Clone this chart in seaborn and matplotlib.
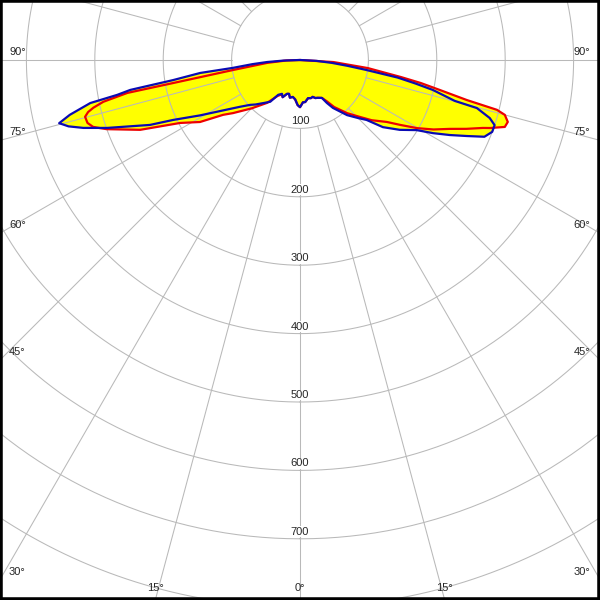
import numpy as np
import pandas as pd
import matplotlib
matplotlib.use("Agg")
import matplotlib.pyplot as plt
import seaborn as sns

# luminous intensity (cd) against gamma angle (deg), one list per half plane
blue_left_gamma = [0, 3, 7, 11, 15, 18, 21, 25, 28, 32, 35.5, 40, 45, 48, 52, 56, 61,
                   64.7, 66.6, 70.6, 72.6, 74, 75.3, 76.6, 78.4, 79.2, 80, 81, 82.6,
                   83.3, 85, 86.5, 88, 90]
blue_left_cd = [69, 66, 58, 55, 57, 52, 53, 60, 56, 60, 75, 82, 92, 98, 111, 130, 167,
                205, 239, 299, 332, 352, 364, 346, 313, 272, 252, 188, 147,
                99, 70, 48, 24, 0]

blue_right_gamma = [0, 4, 7, 12, 16, 19, 22, 25, 30, 32, 34.5, 40.5, 45, 48, 51, 55, 59,
                    61.2, 63.4, 65.5, 67.4, 69.5, 71.5, 73, 74.8, 75.2, 77.3, 78.5, 79.8,
                    81.5, 83, 84.8, 87, 90]
blue_right_cd = [69, 62, 62, 57, 58, 57, 60, 61, 64, 74, 85, 106, 120, 131, 156, 178, 199,
                 222, 245, 268, 292, 300, 300, 290, 268, 234, 199, 172, 145,
                 97, 70, 47, 24, 0]

red_left_gamma = [0, 3, 7, 11, 15, 18, 21, 25, 28, 32, 37.5, 45, 51.6, 54.5, 58.2, 62.3,
                  66.4, 70.3, 71.2, 72.1, 73.5, 75.2, 76.2, 77, 78, 79.2, 79.7, 81.5,
                  85, 88, 90]
red_left_cd = [69, 66, 58, 55, 57, 52, 53, 60, 57, 62, 79, 100, 125, 138, 172, 198,
               255, 300, 309, 318, 324, 325, 319, 310, 294, 257, 189, 99,
               48, 20, 0]

red_right_gamma = [0, 4, 7, 12, 16, 19, 22, 25, 30, 33, 36, 41.6, 46.5, 50, 54.5, 57,
                   59.8, 62.5, 65.3, 67.5, 69.6, 70.3, 71.9, 73.4, 75, 75.8, 76.5, 77.9,
                   79.2, 80.4, 83.2, 86.5, 90]
red_right_cd = [69, 62, 62, 57, 58, 57, 60, 61, 64, 72, 85, 104, 121, 137, 156, 174,
                198, 220, 241, 263, 285, 295, 315, 317, 310, 297, 251, 209,
                180, 150, 100, 49, 0]

ring_values = [100, 200, 300, 400, 500, 600, 700, 800, 900]
ring_labels = ["100", "200", "300", "400", "500", "600", "700"]
side_angles = [90, 75, 60, 45, 30]
bottom_angles = [-15, 0, 15]

# image geometry: polar centre at pixel (300, 60), 0.684 px per cd
PX = 0.684
XMAX = 300 / PX
YTOP = -60 / PX
YBOT = 540 / PX
GRID = "#b9b9b9"


def half_xy(gamma, cd, side):
    g = np.radians(np.asarray(gamma, dtype=float))
    i = np.asarray(cd, dtype=float)
    return side * i * np.sin(g), i * np.cos(g)


def closed_curve(g_left, i_left, g_right, i_right):
    xl, yl = half_xy(g_left[::-1], i_left[::-1], -1)
    xr, yr = half_xy(g_right, i_right, 1)
    return pd.DataFrame({"x": np.concatenate([xl, xr]), "y": np.concatenate([yl, yr])})


sns.set_style("white")
plt.rcParams["font.family"] = ["Liberation Sans", "DejaVu Sans"]

fig = plt.figure(figsize=(6, 6), dpi=100)
ax = fig.add_axes([0, 0, 1, 1])

red = closed_curve(red_left_gamma, red_left_cd, red_right_gamma, red_right_cd)
blue = closed_curve(blue_left_gamma, blue_left_cd, blue_right_gamma, blue_right_cd)

# yellow area = union of both curves
ax.fill(red["x"], red["y"], color="#ffff00", lw=0, zorder=1)
ax.fill(blue["x"], blue["y"], color="#ffff00", lw=0, zorder=1)

# grid rings and radial lines
t = np.linspace(0, 2 * np.pi, 721)
for r in ring_values:
    ax.plot(r * np.sin(t), r * np.cos(t), color=GRID, lw=0.75, zorder=2)
for a in range(0, 360, 15):
    ar = np.radians(a)
    ax.plot([100 * np.sin(ar), 1300 * np.sin(ar)], [100 * np.cos(ar), 1300 * np.cos(ar)],
            color=GRID, lw=0.75, zorder=2)

sns.lineplot(data=red, x="x", y="y", sort=False, estimator=None, color="#ee0000",
             lw=1.6, ax=ax, zorder=3)
sns.lineplot(data=blue, x="x", y="y", sort=False, estimator=None, color="#0a0ab4",
             lw=1.6, ax=ax, zorder=4)

# ring value labels
for r, lab in zip(ring_values, ring_labels):
    ax.text(0, r - 2 / PX, lab, ha="center", va="bottom", fontsize=8, zorder=5,
            bbox=dict(facecolor="white", edgecolor="none", pad=0.3))

# angle labels on the side edges and the bottom edge
for a in side_angles:
    yc = XMAX / np.tan(np.radians(a)) if a != 90 else 0
    ax.text(-XMAX + 9 / PX, yc - 3 / PX, f"{a}°", ha="left", va="bottom", fontsize=8, zorder=5)
    ax.text(XMAX - 10 / PX, yc - 3 / PX, f"{a}°", ha="right", va="bottom", fontsize=8, zorder=5)
for a in bottom_angles:
    xc = YBOT * np.tan(np.radians(a))
    ax.text(xc, YBOT - 7 / PX, f"{abs(a)}°", ha="center", va="bottom", fontsize=8, zorder=5)

ax.set_xlim(-XMAX, XMAX)
ax.set_ylim(YBOT, YTOP)
ax.set_xticks([])
ax.set_yticks([])
ax.set_xlabel("")
ax.set_ylabel("")
for s in ax.spines.values():
    s.set_visible(True)
    s.set_color("black")
    s.set_linewidth(4)

fig.savefig("out.png", dpi=100)
